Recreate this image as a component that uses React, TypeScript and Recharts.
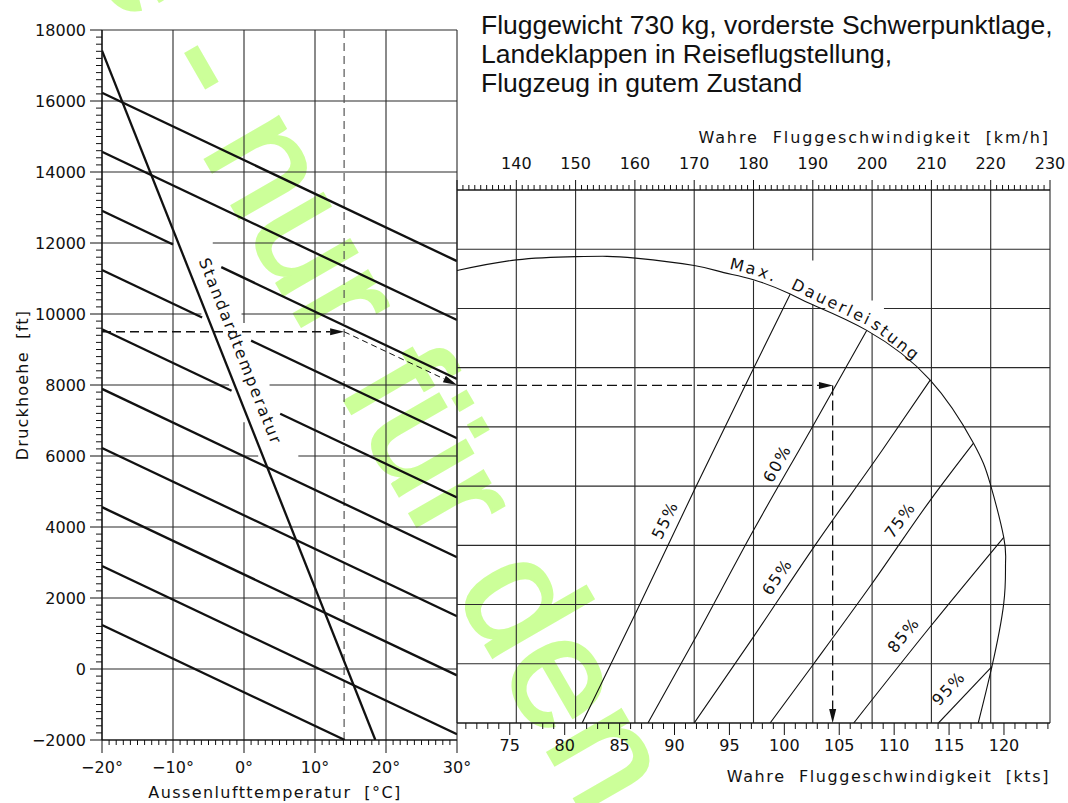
import React from "react";
import { ComposedChart, Line, XAxis, YAxis, ReferenceLine, ReferenceDot } from "recharts";

const W = 1068;
const H = 803;
const INK = "#111";
const GRID = "#2a2a2a";
const FONT = "'DejaVu Sans', sans-serif";
const SANS = "'Liberation Sans', Arial, sans-serif";

// ---- left panel: Druckhoehe [ft] vs Aussenlufttemperatur [°C] ----
const tempTicks = [-20, -10, 0, 10, 20, 30];
const altTicks = [-2000, 0, 2000, 4000, 6000, 8000, 10000, 12000, 14000, 16000, 18000];

const standardTemp = [
  { t: -20, p: 17420 },
  { t: 18.5, p: -2000 },
];

// density altitude lines, split where the label sits
const densityLines = [
  [{ t: -20, p: 16230 }, { t: 30, p: 11490 }],
  [{ t: -20, p: 14570 }, { t: 30, p: 9830 }],
  [{ t: -20, p: 12910 }, { t: -10, p: 11960 }],
  [{ t: -3.2, p: 11320 }, { t: 30, p: 8170 }],
  [{ t: -20, p: 11240 }, { t: -5.9, p: 9900 }],
  [{ t: 1.0, p: 9250 }, { t: 30, p: 6500 }],
  [{ t: -20, p: 9570 }, { t: -1.75, p: 7840 }],
  [{ t: 5.1, p: 7190 }, { t: 30, p: 4830 }],
  [{ t: -20, p: 7890 }, { t: 30, p: 3150 }],
  [{ t: -20, p: 6225 }, { t: 30, p: 1485 }],
  [{ t: -20, p: 4560 }, { t: 30, p: -180 }],
  [{ t: -20, p: 2900 }, { t: 30, p: -1840 }],
  [{ t: -20, p: 1240 }, { t: 14.2, p: -2000 }],
];

const altGridGaps = [
  { p: 12000, from: -10, to: -4.4 },
  { p: 10000, from: -6.0, to: -0.35 },
  { p: 8000, from: -2.1, to: 3.6 },
  { p: 6000, from: 2.0, to: 7.65 },
];
const tempGridGaps = [{ t: 0, from: 6950, to: 9750 }];

const stdLabel = { t: -0.5, p: 8940 };

const exTemp = 14.1;
const exAlt = 9500;
const exAltAt30 = 8000;

// ---- right panel: Wahre Fluggeschwindigkeit ----
const KMH_PER_KT = 1.852;
const kmhTicks = [140, 150, 160, 170, 180, 190, 200, 210, 220, 230];
const ktsTicks = [75, 80, 85, 90, 95, 100, 105, 110, 115, 120];
const rowTicks = [-2000, 0, 2000, 4000, 6000, 8000, 10000, 12000, 14000, 16000];

const power55 = [{ v: 151.1, h: -2000 }, { v: 160.1, h: 1700 }, { v: 170.0, h: 5860 }, { v: 180.0, h: 9970 }, { v: 186.2, h: 12490 }];
const power60 = [{ v: 162.2, h: -2000 }, { v: 170.0, h: 800 }, { v: 180.0, h: 4510 }, { v: 189.9, h: 7990 }, { v: 199.1, h: 11260 }];
const power65 = [{ v: 170.0, h: -2000 }, { v: 180.0, h: 910 }, { v: 190.2, h: 3950 }, { v: 201.7, h: 7210 }, { v: 209.8, h: 9580 }];
const power75 = [{ v: 182.8, h: -2000 }, { v: 190.2, h: 10 }, { v: 200.0, h: 2710 }, { v: 209.8, h: 5520 }, { v: 217.1, h: 7450 }];
const power85 = [{ v: 196.9, h: -2000 }, { v: 209.8, h: 1250 }, { v: 222.2, h: 4270 }];
const power95 = [{ v: 211.2, h: -2000 }, { v: 220.2, h: -100 }];
const powerLines = [power55, power60, power65, power75, power85, power95];

const maxDauer = [
  { v: 130.0, h: 13280 }, { v: 140.0, h: 13640 }, { v: 150.1, h: 13750 }, { v: 155.3, h: 13760 },
  { v: 160.1, h: 13700 }, { v: 170.0, h: 13450 }, { v: 175.0, h: 13210 }, { v: 180.0, h: 12970 },
  { v: 186.2, h: 12490 }, { v: 189.9, h: 12130 }, { v: 199.1, h: 11260 }, { v: 209.8, h: 9580 },
  { v: 217.1, h: 7450 }, { v: 219.9, h: 6090 }, { v: 222.2, h: 4270 }, { v: 222.5, h: 3390 },
  { v: 222.2, h: 2040 }, { v: 220.2, h: -100 }, { v: 217.9, h: -2000 },
];

const pctLabels = [
  { text: "55%", v: 165.1, h: 4850 },
  { text: "60%", v: 184.0, h: 6760 },
  { text: "65%", v: 184.0, h: 2935 },
  { text: "75%", v: 204.7, h: 4850 },
  { text: "85%", v: 205.3, h: 970 },
  { text: "95%", v: 212.9, h: -830 },
];
const pctAngles: Record<string, number> = { "55%": -64, "60%": -61, "65%": -56, "75%": -54, "85%": -51, "95%": -47 };

const kmhGridGaps = [
  { v: 180, from: 12940, to: 14000 },
  { v: 190, from: 12130, to: 13620 },
  { v: 200, from: 11145, to: 12270 },
];
const rowGridGaps = [{ h: 12000, from: 192.1, to: 202 }];

const exKmh = 193.4;
const exKts = 104.4;
const exRow = 9400;

// ---- helpers ----
const range = (a: number, b: number, s: number) =>
  Array.from({ length: Math.round((b - a) / s) + 1 }, (_, i) => +(a + i * s).toFixed(3));

const split = (a: number, b: number, gaps: { from: number; to: number }[]) => {
  const out: [number, number][] = [];
  let cur = a;
  [...gaps].sort((g1, g2) => g1.from - g2.from).forEach((g) => {
    out.push([cur, g.from]);
    cur = g.to;
  });
  out.push([cur, b]);
  return out;
};

const minus = (v: number) => (v < 0 ? `\u2212${-v}` : `${v}`);
const tickText = { fontFamily: FONT, fontSize: 16, fill: INK };

const TempTick = (props: any) => {
  const { x, y, payload } = props;
  const v = payload.value;
  const major = v % 10 === 0;
  return (
    <g>
      <line x1={x} x2={x} y1={y} y2={y + (major ? 13 : 5)} stroke={INK} strokeWidth={1} />
      {major && (
        <text x={x} y={y + 33} textAnchor="middle" {...tickText}>{`${minus(v)}°`}</text>
      )}
    </g>
  );
};

const AltTick = (props: any) => {
  const { x, y, payload } = props;
  const v = payload.value;
  const major = v % 2000 === 0;
  return (
    <g>
      <line x1={x - (major ? 12 : 6)} x2={x} y1={y} y2={y} stroke={INK} strokeWidth={1} />
      {major && (
        <text x={x - 16} y={y + 6} textAnchor="end" {...tickText}>{minus(v)}</text>
      )}
    </g>
  );
};

const KmhTick = (props: any) => {
  const { x, y, payload } = props;
  const v = payload.value;
  const major = v % 10 === 0;
  return (
    <g>
      <line x1={x} x2={x} y1={y} y2={y - (major ? 10 : 5)} stroke={INK} strokeWidth={1} />
      {major && kmhTicks.includes(v) && (
        <text x={x} y={y - 21} textAnchor="middle" {...tickText}>{v}</text>
      )}
    </g>
  );
};

const KtsTick = (props: any) => {
  const { x, y, payload } = props;
  const v = payload.value;
  const major = v % 5 === 0;
  return (
    <g>
      <line x1={x} x2={x} y1={y} y2={y + (major ? 12 : 6)} stroke={INK} strokeWidth={1} />
      {major && ktsTicks.includes(v) && (
        <text x={x} y={y + 28} textAnchor="middle" {...tickText}>{v}</text>
      )}
    </g>
  );
};

const arrowLine = (dash: string, width: number, color = INK) => (p: any) => {
  const { x1, y1, x2, y2 } = p;
  const a = Math.atan2(y2 - y1, x2 - x1);
  const L = 14;
  const hw = 3.5;
  const bx = x2 - L * Math.cos(a);
  const by = y2 - L * Math.sin(a);
  const nx = -Math.sin(a) * hw;
  const ny = Math.cos(a) * hw;
  return (
    <g>
      <line x1={x1} y1={y1} x2={bx} y2={by} stroke={color} strokeWidth={width} strokeDasharray={dash} />
      <polygon points={`${x2},${y2} ${bx + nx},${by + ny} ${bx - nx},${by - ny}`} fill={color} />
    </g>
  );
};

const maxLabelDot = (p: any) => {
  if (p.index !== 0 || !Array.isArray(p.points)) return <g key={`ml-${p.index}`} />;
  const pts = p.points.filter((q: any) => q.payload.v >= 175 && q.payload.h >= 7000);
  const d = pts.map((q: any, i: number) => `${i ? "L" : "M"}${q.x.toFixed(1)},${q.y.toFixed(1)}`).join(" ");
  return (
    <g key="ml-0">
      <path id="maxDauerPath" d={d} fill="none" stroke="none" />
      <text fontFamily={FONT} fontSize={16} letterSpacing={2.5} fill={INK} dy={-5} style={{ whiteSpace: "pre" }}>
        <textPath href="#maxDauerPath" startOffset={4}>Max.  Dauerleistung</textPath>
      </text>
    </g>
  );
};

function LeftPanel() {
  return (
    <ComposedChart width={W} height={H} margin={{ top: 30, right: W - 457, bottom: 33, left: 42 }}>
      <XAxis
        type="number" dataKey="t" domain={[-20, 30]} allowDataOverflow
        ticks={range(-20, 30, 1)} interval={0} tickSize={0} tickMargin={0}
        tick={TempTick} tickLine={false} axisLine={{ stroke: INK, strokeWidth: 1.2 }} height={30}
      />
      <YAxis
        type="number" dataKey="p" domain={[-2000, 18000]} allowDataOverflow
        ticks={range(-2000, 18000, 200)} interval={0} tickSize={0} tickMargin={0}
        tick={AltTick} tickLine={false} axisLine={{ stroke: INK, strokeWidth: 1.2 }} width={60}
      />
      {altTicks.flatMap((p) =>
        split(-20, 30, altGridGaps.filter((g) => g.p === p)).map(([a, b], i) => (
          <ReferenceLine key={`h${p}-${i}`} segment={[{ x: a, y: p }, { x: b, y: p }]}
            stroke={GRID} strokeWidth={1.1} ifOverflow="visible" />
        ))
      )}
      {tempTicks.flatMap((t) =>
        split(-2000, 18000, tempGridGaps.filter((g) => g.t === t)).map(([a, b], i) => (
          <ReferenceLine key={`v${t}-${i}`} segment={[{ x: t, y: a }, { x: t, y: b }]}
            stroke={GRID} strokeWidth={1.1} ifOverflow="visible" />
        ))
      )}
      <ReferenceLine segment={[{ x: exTemp, y: -2000 }, { x: exTemp, y: 18000 }]}
        stroke="#555" strokeWidth={1.2} strokeDasharray="8 5" ifOverflow="visible" />
      <ReferenceLine segment={[{ x: -20, y: exAlt }, { x: exTemp, y: exAlt }]}
        ifOverflow="visible" shape={arrowLine("9 5", 1.3)} />
      <ReferenceLine segment={[{ x: exTemp, y: exAlt }, { x: 30, y: exAltAt30 }]}
        ifOverflow="visible" shape={arrowLine("6 4", 1)} />
      {densityLines.map((seg, i) => (
        <Line key={`d${i}`} data={seg} dataKey="p" type="linear" stroke={INK} strokeWidth={2.3}
          dot={false} activeDot={false} isAnimationActive={false} />
      ))}
      <Line data={standardTemp} dataKey="p" type="linear" stroke={INK} strokeWidth={2.3}
        dot={false} activeDot={false} isAnimationActive={false} />
      <ReferenceDot x={stdLabel.t} y={stdLabel.p} r={0} ifOverflow="visible"
        shape={(p: any) => (
          <text transform={`translate(${p.cx},${p.cy}) rotate(68.4)`} textAnchor="middle"
            dominantBaseline="central" fontFamily={FONT} fontSize={16} letterSpacing={2} fill={INK}>
            Standardtemperatur
          </text>
        )} />
    </ComposedChart>
  );
}

function RightPanel() {
  return (
    <ComposedChart width={W} height={H} margin={{ top: 160, right: 18, bottom: 50, left: 457 }}>
      <XAxis
        xAxisId="kmh" orientation="top" type="number" dataKey="v" domain={[130, 230]} allowDataOverflow
        ticks={range(130, 230, 1)} interval={0} tickSize={0} tickMargin={0}
        tick={KmhTick} tickLine={false} axisLine={{ stroke: INK, strokeWidth: 1.2 }} height={30}
      />
      <XAxis
        xAxisId="kts" orientation="bottom" type="number" dataKey="kts"
        domain={[130 / KMH_PER_KT, 230 / KMH_PER_KT]} allowDataOverflow
        ticks={range(71, 124, 1)} interval={0} tickSize={0} tickMargin={0}
        tick={KtsTick} tickLine={false} axisLine={{ stroke: INK, strokeWidth: 1.2 }} height={30}
      />
      <YAxis yAxisId="h" type="number" dataKey="h" domain={[-2000, 16000]} allowDataOverflow hide />
      {rowTicks.flatMap((h) =>
        split(130, 230, rowGridGaps.filter((g) => g.h === h)).map(([a, b], i) => (
          <ReferenceLine key={`rh${h}-${i}`} xAxisId="kmh" yAxisId="h"
            segment={[{ x: a, y: h }, { x: b, y: h }]} stroke={GRID} strokeWidth={1.1} ifOverflow="visible" />
        ))
      )}
      {[130, ...kmhTicks].flatMap((v) =>
        split(-2000, 16000, kmhGridGaps.filter((g) => g.v === v)).map(([a, b], i) => (
          <ReferenceLine key={`rv${v}-${i}`} xAxisId="kmh" yAxisId="h"
            segment={[{ x: v, y: a }, { x: v, y: b }]} stroke={GRID} strokeWidth={1.1} ifOverflow="visible" />
        ))
      )}
      {powerLines.map((pl, i) => (
        <Line key={`pw${i}`} xAxisId="kmh" yAxisId="h" data={pl} dataKey="h" type="monotone"
          stroke={INK} strokeWidth={1.1} dot={false} activeDot={false} isAnimationActive={false} />
      ))}
      <Line xAxisId="kmh" yAxisId="h" data={maxDauer} dataKey="h" type="natural"
        stroke={INK} strokeWidth={1.1} dot={maxLabelDot} activeDot={false} isAnimationActive={false} />
      {pctLabels.map((l) => (
        <ReferenceDot key={l.text} xAxisId="kmh" yAxisId="h" x={l.v} y={l.h} r={0} ifOverflow="visible"
          shape={(p: any) => (
            <text transform={`translate(${p.cx},${p.cy}) rotate(${pctAngles[l.text]})`} textAnchor="middle"
              dominantBaseline="central" fontFamily={FONT} fontSize={16} letterSpacing={1.5} fill={INK}>
              {l.text}
            </text>
          )} />
      ))}
      <ReferenceLine xAxisId="kmh" yAxisId="h" segment={[{ x: 130, y: exRow }, { x: exKmh, y: exRow }]}
        ifOverflow="visible" shape={arrowLine("10 5", 1.3)} />
      <ReferenceLine xAxisId="kts" yAxisId="h" segment={[{ x: exKts, y: exRow }, { x: exKts, y: -2000 }]}
        ifOverflow="visible" shape={arrowLine("10 5", 1.3)} />
    </ComposedChart>
  );
}

export default function App() {
  const layer: React.CSSProperties = { position: "absolute", left: 0, top: 0 };
  const axisTitle = { fontFamily: FONT, fontSize: 16, fill: INK, style: { whiteSpace: "pre" as const } };
  return (
    <div style={{ position: "absolute", left: 0, top: 0, width: W, height: H, background: "#fff", overflow: "hidden" }}>
      <svg width={W} height={H} style={layer}>
        <text transform="translate(-75.7,-327.5) rotate(60)" fontFamily={SANS} fontSize={160}
          fill="#ccff99" stroke="#ccff99" strokeWidth={3} style={{ whiteSpace: "pre" }}>
          Kopie - nur für den
        </text>
      </svg>
      <div style={layer}><LeftPanel /></div>
      <div style={layer}><RightPanel /></div>
      <svg width={W} height={H} style={{ ...layer, pointerEvents: "none" }}>
        <g fontFamily={SANS} fontSize={26.5} fill={INK}>
          <text x={481} y={34}>Fluggewicht 730 kg, vorderste Schwerpunktlage,</text>
          <text x={481} y={63}>Landeklappen in Reiseflugstellung,</text>
          <text x={481} y={92}>Flugzeug in gutem Zustand</text>
        </g>
        <text x={1050} y={143} textAnchor="end" letterSpacing={1.9} {...axisTitle}>{"Wahre  Fluggeschwindigkeit  [km/h]"}</text>
        <text x={1050} y={782} textAnchor="end" letterSpacing={1.6} {...axisTitle}>{"Wahre  Fluggeschwindigkeit  [kts]"}</text>
        <text x={275} y={798} textAnchor="middle" letterSpacing={1.4} {...axisTitle}>{"Aussenlufttemperatur  [°C]"}</text>
        <text transform="translate(28,385) rotate(-90)" textAnchor="middle" letterSpacing={1.2} {...axisTitle}>{"Druckhoehe  [ft]"}</text>
      </svg>
    </div>
  );
}
